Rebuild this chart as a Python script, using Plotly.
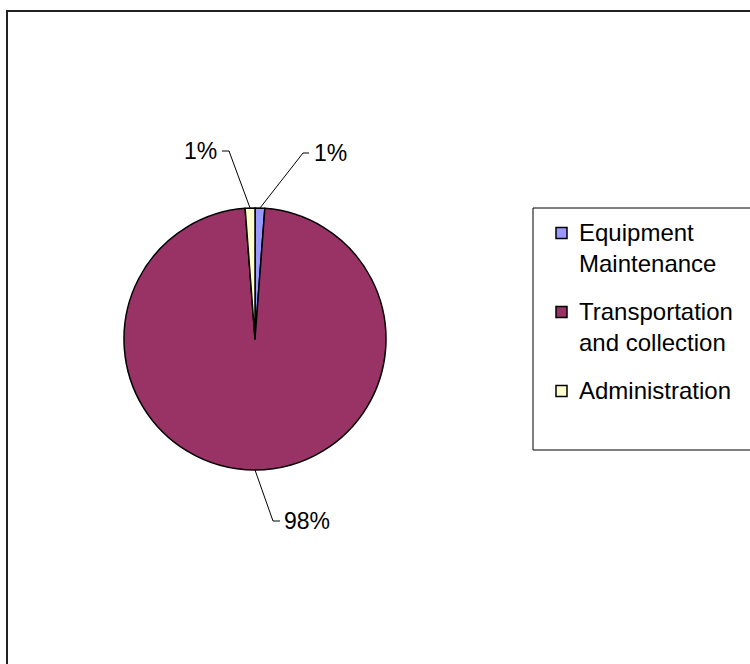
import math
import plotly.graph_objects as go

# Cost breakdown by activity
labels = ["Equipment Maintenance", "Transportation and collection", "Administration"]
legend_lines = [["Equipment", "Maintenance"], ["Transportation", "and collection"], ["Administration"]]
values = [1.2, 97.6, 1.2]
colors = ["#9999FF", "#993366", "#FFFFCC"]

W, H = 750, 664
FONT = "Liberation Sans, Arial, sans-serif"

# pie placement (pixels)
cx, cy, r = 255, 339, 131


def px(x):
    return x / W


def py(y):
    return (H - y) / H


fig = go.Figure()
fig.add_trace(go.Pie(
    labels=labels,
    values=values,
    marker=dict(colors=colors, line=dict(color="black", width=1.5)),
    sort=False,
    direction="clockwise",
    rotation=0,
    textinfo="none",
    hoverinfo="label+percent",
    showlegend=False,
    domain=dict(x=[px(cx - r), px(cx + r)], y=[py(cy + r), py(cy - r)]),
))

shapes = []
annotations = []

# outer chart frame
shapes.append(dict(type="rect", xref="paper", yref="paper",
                   x0=px(7), x1=px(W + 20), y0=py(H + 20), y1=py(11),
                   line=dict(color="#222222", width=2), fillcolor="rgba(0,0,0,0)"))

# percentage labels with leader lines from each slice's mid-angle
total = sum(values)
# elbow point, end of horizontal tick, text anchor x, text anchor side
leader = [
    dict(elbow=(303, 153), end=(309, 153), tx=312, anchor="left"),
    dict(elbow=(273, 521), end=(280, 521), tx=282, anchor="left"),
    dict(elbow=(229, 151), end=(222, 151), tx=219, anchor="right"),
]
cum = 0.0
for v, ld in zip(values, leader):
    mid = (cum + v / 2) / total * 2 * math.pi
    cum += v
    sx = cx + r * math.sin(mid)
    sy = cy - r * math.cos(mid)
    ex, ey = ld["elbow"]
    hx, hy = ld["end"]
    shapes.append(dict(type="path", xref="paper", yref="paper",
                       path=f"M {px(sx)},{py(sy)} L {px(ex)},{py(ey)} L {px(hx)},{py(hy)}",
                       line=dict(color="black", width=1)))
    annotations.append(dict(xref="paper", yref="paper", x=px(ld["tx"]), y=py(ey),
                            xanchor=ld["anchor"], yanchor="middle",
                            text=f"{round(v / total * 100)}%", showarrow=False,
                            font=dict(family=FONT, size=23, color="black")))

# legend box
shapes.append(dict(type="rect", xref="paper", yref="paper",
                   x0=px(533), x1=px(W + 20), y0=py(450), y1=py(208),
                   line=dict(color="black", width=1), fillcolor="white"))

item_tops = [232, 311, 390]
line_gap = 31.5
for lines, col, y0 in zip(legend_lines, colors, item_tops):
    shapes.append(dict(type="rect", xref="paper", yref="paper",
                       x0=px(556), x1=px(567), y0=py(y0 + 6.5), y1=py(y0 - 4.5),
                       line=dict(color="black", width=1.5), fillcolor=col))
    for i, t in enumerate(lines):
        annotations.append(dict(xref="paper", yref="paper", x=px(577), y=py(y0 + i * line_gap),
                                xanchor="left", yanchor="middle", text=t, showarrow=False,
                                font=dict(family=FONT, size=24, color="black")))

fig.update_layout(
    width=W, height=H,
    margin=dict(l=0, r=0, t=0, b=0),
    paper_bgcolor="white",
    plot_bgcolor="white",
    shapes=shapes,
    annotations=annotations,
)

fig.write_html("out.html")
